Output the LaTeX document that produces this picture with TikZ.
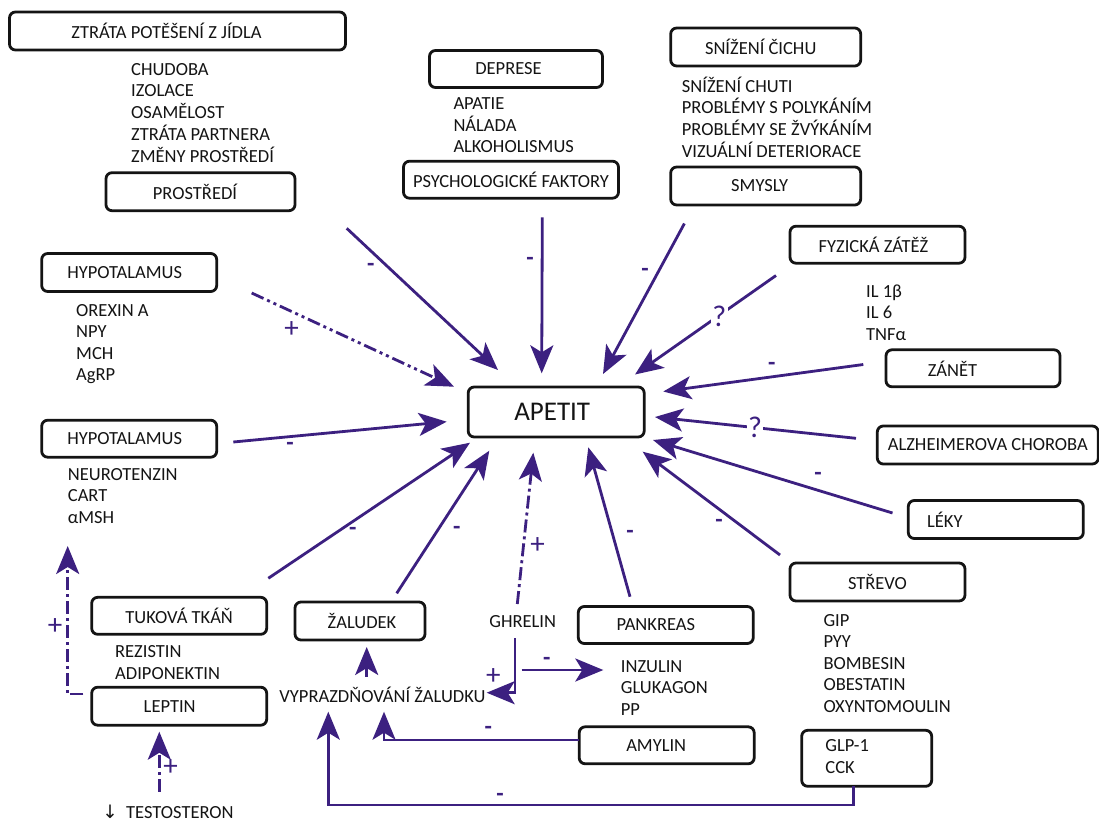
\documentclass[tikz,border=0pt]{standalone}
\usepackage{fontspec}
\setmainfont{Carlito}
\newfontfamily\symfont{DejaVu Sans}
\usetikzlibrary{arrows.meta}

\definecolor{flow}{RGB}{60,32,128}
\definecolor{ink}{RGB}{20,20,20}

\newcommand\boxfont{\fontsize{18.5}{21.5}\selectfont}
\newcommand\stack[1]{\begin{tabular}[t]{@{}l@{}}#1\end{tabular}}
\newcommand\nudgeL[2]{#2\hspace*{#1pt}}
\newcommand\nudgeR[2]{\hspace*{#1pt}#2}

\begin{document}
\begin{tikzpicture}[x=1pt, y=-1pt,
  box/.style n args={2}{draw=ink, line width=2.8pt, rounded corners=6pt,
    minimum width=#1pt, minimum height=#2pt, inner sep=0pt, text=ink, font=\boxfont},
  txt/.style={text=ink, font=\boxfont, inner sep=0pt},
  lst/.style={text=ink, font=\boxfont, inner sep=0pt, anchor=base west},
  link/.style={draw=flow, line width=2.8pt, -{Stealth[length=28pt,width=23pt,inset=7pt]}},
  ddot/.style={dash pattern=on 13pt off 4pt on 3pt off 4pt on 3pt off 4pt},
  dsdot/.style={dash pattern=on 13pt off 4pt on 3pt off 4pt},
  sign/.style={text=flow, font=\fontsize{24}{24}\selectfont\bfseries, inner sep=0pt},
  plus/.style={text=flow, font=\fontsize{29}{29}\selectfont, inner sep=0pt},
  ask/.style={text=flow, font=\fontsize{30}{30}\selectfont, fill=white, inner sep=1.5pt}]

\fill[white] (0,0) rectangle (1099,822);
\useasboundingbox (0,0) rectangle (1099,822);

% ---------- boxes and lists ----------
\node[box={336}{38}] (loss) at (177.5,31) {\nudgeL{22}{ZTRÁTA POTĚŠENÍ Z JÍDLA}};
\node[lst] (socl) at (131,75.3) {\stack{CHUDOBA\\IZOLACE\\OSAMĚLOST\\ZTRÁTA PARTNERA\\ZMĚNY PROSTŘEDÍ}};
\node[box={189}{38}] (env) at (200.5,191.7) {\nudgeL{11}{PROSTŘEDÍ}};

\node[box={173}{37}] (depr) at (516,69) {\nudgeL{15}{DEPRESE}};
\node[lst] (moodl) at (453.3,109.3) {\stack{APATIE\\NÁLADA\\ALKOHOLISMUS}};
\node[box={215}{37}] (psy) at (511,179.7) {PSYCHOLOGICKÉ FAKTORY};

\node[box={190}{38}] (smell) at (765.7,47) {\nudgeL{10}{SNÍŽENÍ ČICHU}};
\node[lst] (sensl) at (681.7,92) {\stack{SNÍŽENÍ CHUTI\\PROBLÉMY S POLYKÁNÍM\\PROBLÉMY SE ŽVÝKÁNÍM\\VIZUÁLNÍ DETERIORACE}};
\node[box={190}{38}] (sens) at (765.7,186) {\nudgeL{12}{SMYSLY}};

\node[box={175}{37}] (phys) at (877.5,244.7) {\nudgeL{8}{FYZICKÁ ZÁTĚŽ}};
\node[lst] (cytol) at (866,297) {\stack{IL 1β\\IL 6\\TNFα}};
\node[box={174}{37}] (infl) at (973,368.3) {\nudgeL{41}{ZÁNĚT}};
\node[box={221}{38}] (alz) at (987.8,445) {ALZHEIMEROVA CHOROBA};
\node[box={175}{38}] (drug) at (995.8,519.5) {\nudgeL{102}{LÉKY}};
\node[box={175}{38}] (gut) at (877.5,582) {STŘEVO};
\node[lst] (gutl) at (823.3,626) {\stack{GIP\\PYY\\BOMBESIN\\OBESTATIN\\OXYNTOMOULIN}};
\node[box={130}{56}] (glp) at (866.7,758.3) {\nudgeL{39}{\stack{GLP-1\\CCK}}};

\node[box={175}{37}] (amy) at (666.7,745.3) {\nudgeL{21}{AMYLIN}};
\node[box={175}{37}] (pan) at (665.8,625) {\nudgeL{20}{PANKREAS}};
\node[lst] (panl) at (620.7,672) {\stack{INZULIN\\GLUKAGON\\PP}};
\node[txt] (ghr) at (522.7,621.7) {GHRELIN};
\node[box={130}{38}] (stom) at (360,621) {\nudgeR{4}{ŽALUDEK}};
\node[txt] (empt) at (382.5,695) {VYPRAZDŇOVÁNÍ ŽALUDKU};

\node[box={175}{37}] (fat) at (179.2,615.8) {TUKOVÁ TKÁŇ};
\node[lst] (fatl) at (115,657.5) {\stack{REZISTIN\\ADIPONEKTIN}};
\node[box={175}{38}] (lep) at (179.2,706.2) {\nudgeL{19}{LEPTIN}};
\node[txt, anchor=base] (test) at (168,818) {{\symfont ↓}\ \ TESTOSTERON};

\node[box={175}{38}] (hypa) at (129.2,272.5) {\nudgeL{9}{HYPOTALAMUS}};
\node[lst] (hypal) at (76,316) {\stack{OREXIN A\\NPY\\MCH\\AgRP}};
\node[box={175}{37}] (hypb) at (129.2,438.7) {\nudgeL{9}{HYPOTALAMUS}};
\node[lst] (hypbl) at (67.7,480) {\stack{NEUROTENZIN\\CART\\αMSH}};

\node[box={176}{50}, font=\fontsize{27}{30}\selectfont] (app) at (556.2,412) {\nudgeL{8}{APETIT}};

% ---------- connector end points ----------
\coordinate (envS) at (346.7,228.3);  \coordinate (envT) at (498,370);
\coordinate (hypaS) at (251.7,293);   \coordinate (hypaT) at (454,386.7);
\coordinate (psyS) at (542.3,217.3);  \coordinate (psyT) at (541.7,373.3);
\coordinate (sensS) at (684.4,223.5); \coordinate (sensT) at (603,374);
\coordinate (physS) at (776,275.5);   \coordinate (physT) at (635,374.5);
\coordinate (inflS) at (863.3,364.5); \coordinate (inflT) at (663.3,391.5);
\coordinate (alzS) at (856,438.3);    \coordinate (alzT) at (655,417);
\coordinate (drugS) at (892.5,513);   \coordinate (drugT) at (653,440);
\coordinate (gutS) at (780,555);      \coordinate (gutT) at (642.7,451.7);
\coordinate (panS) at (630,596.7);    \coordinate (panT) at (588.3,447.3);
\coordinate (ghrS) at (517.3,604);    \coordinate (ghrT) at (533.3,452.7);
\coordinate (stomS) at (396.7,593.3); \coordinate (stomT) at (489.3,450.7);
\coordinate (fatS) at (268.3,578.3);  \coordinate (fatT) at (470,442.7);
\coordinate (hypbS) at (233.3,442);   \coordinate (hypbT) at (446.7,421.7);

\coordinate (lepS) at (83.3,694);     \coordinate (lepT) at (67.7,546);
\coordinate (testS) at (159.3,791.7); \coordinate (testT) at (159.3,731.7);
\coordinate (emptS) at (366.7,676.7); \coordinate (emptT) at (366.7,647);
\coordinate (ghrD) at (515,638.3);    \coordinate (ghrE) at (486.7,692.7);
\coordinate (hormS) at (521.7,670);   \coordinate (hormT) at (603.3,670);
\coordinate (amyS) at (579.3,740);    \coordinate (amyT) at (384,711.7);
\coordinate (glpS) at (853.3,786);    \coordinate (glpC) at (853.3,805);
\coordinate (glpT) at (328.3,711.7);

% ---------- spokes into APETIT ----------
\draw[link] (envS) -- (envT);
\draw[link, ddot] (hypaS) -- (hypaT);
\draw[link] (psyS) -- (psyT);
\draw[link] (sensS) -- (sensT);
\draw[link] (physS) -- (physT);
\draw[link] (inflS) -- (inflT);
\draw[link] (alzS) -- (alzT);
\draw[link] (drugS) -- (drugT);
\draw[link] (gutS) -- (gutT);
\draw[link] (panS) -- (panT);
\draw[link, dsdot] (ghrS) -- (ghrT);
\draw[link] (stomS) -- (stomT);
\draw[link] (fatS) -- (fatT);
\draw[link] (hypbS) -- (hypbT);

% ---------- lower connectors ----------
\draw[link, dsdot] (lepS) -| (lepT);
\draw[link, dsdot] (testS) -- (testT);
\draw[link] (emptS) -- (emptT);
\draw[link] (ghrD) |- (ghrE);
\draw[link] (hormS) -- (hormT);
\draw[link] (amyS) -| (amyT);
\draw[link] (glpS) -- (glpC) -| (glpT);

% ---------- effect signs ----------
\node[sign] (m1) at (370.7,267) {-};
\node[plus] (p1) at (291.7,329.3) {+};
\node[sign] (m2) at (530,261) {-};
\node[sign] (m3) at (645,272.7) {-};
\node[ask] (q1) at (719.3,316) {?};
\node[sign] (m4) at (771.7,366.5) {-};
\node[ask] (q2) at (755,427) {?};
\node[sign] (m5) at (818,476) {-};
\node[sign] (m6) at (719,523.5) {-};
\node[sign] (m7) at (630,534) {-};
\node[plus] (p2) at (537.7,546) {+};
\node[sign] (m8) at (456.7,530) {-};
\node[sign] (m9) at (352.7,531.7) {-};
\node[sign] (m10) at (290,446.7) {-};
\node[plus] (p3) at (55,626.7) {+};
\node[plus] (p4) at (170.7,767.3) {+};
\node[plus] (p5) at (493.3,676.7) {+};
\node[sign] (m11) at (546.7,661.7) {-};
\node[sign] (m12) at (488.3,730.7) {-};
\node[sign] (m13) at (500,797.3) {-};
\end{tikzpicture}
\end{document}
